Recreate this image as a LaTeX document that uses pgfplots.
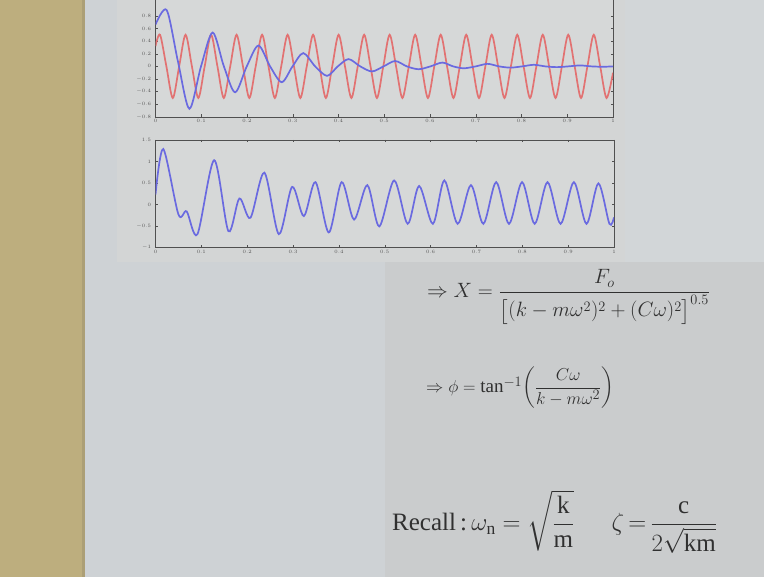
\documentclass[border=0pt]{standalone}
\usepackage{fontspec}
\setmainfont{Liberation Serif}
\usepackage{amsmath}
\usepackage{pgfplots}
\pgfplotsset{compat=1.18}

\definecolor{tanstrip}{HTML}{BDAE7E}
\definecolor{tanedge}{HTML}{AC9F76}
\definecolor{slide}{HTML}{CED2D5}
\definecolor{figbg}{HTML}{D3D5D5}
\definecolor{lowright}{HTML}{CACCCD}
\definecolor{topright}{HTML}{D2D6D8}
\definecolor{plotbg}{HTML}{D6D8D8}
\definecolor{framegray}{HTML}{505050}
\definecolor{labelgray}{HTML}{555555}
\definecolor{redline}{HTML}{E27272}
\definecolor{blueline}{HTML}{6A6AE0}
\definecolor{eqgray}{HTML}{303030}

\pgfplotsset{
  slideplot/.style={
    scale only axis,
    axis background/.style={fill=plotbg},
    axis line style={draw=framegray, line width=0.6pt},
    tick style={draw=framegray, line width=0.4pt},
    major tick length=2.5pt,
    tick label style={font=\fontsize{4.5}{5}\selectfont, text=labelgray},
    xmin=0, xmax=1,
    xtick={0,0.1,0.2,0.3,0.4,0.5,0.6,0.7,0.8,0.9,1},
    xticklabel style={yshift=1pt},
    yticklabel style={xshift=-1pt},
  }
}

\begin{document}
\begin{tikzpicture}[x=1pt,y=1pt]
\useasboundingbox (0,0) rectangle (764,577);
\clip (0,0) rectangle (764,577);
% slide background
\fill[slide] (0,0) rectangle (764,577);
\fill[figbg] (117,315) rectangle (625,577);
\fill[topright] (625,315) rectangle (764,577);
\fill[lowright] (385,0) rectangle (764,315);
\fill[tanstrip] (0,0) rectangle (82,577);
\fill[tanedge] (82,0) rectangle (85,577);

% top: steady state (red) and transient (blue)
\begin{axis}[slideplot, at={(155.5pt,460pt)}, anchor=south west,
  width=457.5pt, height=120.2pt,
  ymin=-0.8, ymax=1.1,
  ytick={-0.8,-0.6,-0.4,-0.2,0,0.2,0.4,0.6,0.8}]
\addplot[redline, line width=1.7pt, smooth] coordinates {
(0,0.32)(0.0099,0.5)(0.0238,0)(0.0378,-0.5)(0.0517,0)(0.0657,0.5)(0.0796,0)
(0.0936,-0.5)(0.1075,0)(0.1215,0.5)(0.1354,0)(0.1493,-0.5)(0.1633,0)
(0.1772,0.5)(0.1912,0)(0.2051,-0.5)(0.2190,0)(0.2330,0.5)(0.2469,0)
(0.2609,-0.5)(0.2748,0)(0.2888,0.5)(0.3027,0)(0.3166,-0.5)(0.3306,0)
(0.3445,0.5)(0.3585,0)(0.3724,-0.5)(0.3863,0)(0.4003,0.5)(0.4142,0)
(0.4282,-0.5)(0.4421,0)(0.4561,0.5)(0.4700,0)(0.4840,-0.5)(0.4979,0)
(0.5118,0.5)(0.5258,0)(0.5397,-0.5)(0.5537,0)(0.5676,0.5)(0.5816,0)
(0.5955,-0.5)(0.6094,0)(0.6234,0.5)(0.6373,0)(0.6513,-0.5)(0.6652,0)
(0.6792,0.5)(0.6931,0)(0.7071,-0.5)(0.7210,0)(0.7349,0.5)(0.7489,0)
(0.7628,-0.5)(0.7768,0)(0.7907,0.5)(0.8046,0)(0.8186,-0.5)(0.8325,0)
(0.8465,0.5)(0.8604,0)(0.8744,-0.5)(0.8883,0)(0.9022,0.5)(0.9162,0)
(0.9301,-0.5)(0.9441,0)(0.9580,0.5)(0.9720,0)(0.9859,-0.5)(1.0,-0.1)
};
\addplot[blueline, line width=1.7pt, smooth] coordinates {
(0,0.66)(0.0245,0.89)(0.049,0.08)(0.074,-0.67)(0.0995,0)(0.125,0.535)
(0.1495,0)(0.174,-0.41)(0.1995,0)(0.225,0.33)(0.2505,0)(0.276,-0.25)
(0.2995,0)(0.323,0.21)(0.349,0)(0.375,-0.15)(0.3985,0)(0.422,0.115)
(0.4475,0)(0.473,-0.08)(0.4985,0)(0.524,0.085)(0.5495,0)(0.575,-0.045)
(0.601,0)(0.627,0.06)(0.6505,0)(0.674,-0.03)(0.70,0)(0.726,0.04)
(0.751,0)(0.776,-0.02)(0.8015,0)(0.827,0.025)(0.852,0)(0.877,-0.012)
(0.9025,0)(0.928,0.015)(0.953,0)(0.978,-0.006)(1.0,0)
};
\end{axis}

% bottom: total response
\begin{axis}[slideplot, at={(155.5pt,329.5pt)}, anchor=south west,
  width=458.5pt, height=107.5pt,
  ymin=-1, ymax=1.5,
  ytick={-1,-0.5,0,0.5,1,1.5}]
\addplot[blueline, line width=1.7pt, smooth] coordinates {
(0,0.23)(0.017,1.29)(0.050,-0.23)(0.068,-0.16)(0.0915,-0.69)(0.128,1.03)
(0.159,-0.62)(0.183,0.14)(0.207,-0.31)(0.2375,0.74)(0.269,-0.69)(0.298,0.41)
(0.3235,-0.27)(0.349,0.52)(0.378,-0.65)(0.406,0.52)(0.433,-0.35)(0.462,0.45)
(0.488,-0.51)(0.5205,0.56)(0.55,-0.45)(0.575,0.43)(0.605,-0.45)(0.63,0.56)
(0.659,-0.45)(0.688,0.45)(0.715,-0.45)(0.743,0.52)(0.771,-0.45)(0.7995,0.52)
(0.827,-0.45)(0.855,0.52)(0.8835,-0.45)(0.9125,0.52)(0.94,-0.45)(0.966,0.49)
(0.99,-0.45)(1.0,-0.3)
};
\end{axis}

% equations on the slide
\node[anchor=west, text=eqgray, font=\fontsize{19.3}{22}\selectfont, inner sep=0pt]
  at (427,280) {$\Rightarrow X=\dfrac{F_o}{\bigl[(k-m\omega^2)^2+(C\omega)^2\bigr]^{0.5}}$};
\node[anchor=west, text=eqgray, font=\fontsize{19}{22}\selectfont, inner sep=0pt]
  at (426,189) {$\Rightarrow \phi=\tan^{-1}\!\left(\dfrac{C\omega}{k-m\omega^2}\right)$};
\node[anchor=west, text=eqgray, font=\fontsize{25}{28}\selectfont, inner sep=0pt]
  at (392,55) {Recall\,:\,$\omega_{\mathrm{n}}=\sqrt{\dfrac{\mathrm{k}}{\mathrm{m}}}\quad\hspace{0.5em}\zeta\,{=}\,\dfrac{\mathrm{c}}{2\sqrt{\mathrm{km}}}$};
\end{tikzpicture}
\end{document}
